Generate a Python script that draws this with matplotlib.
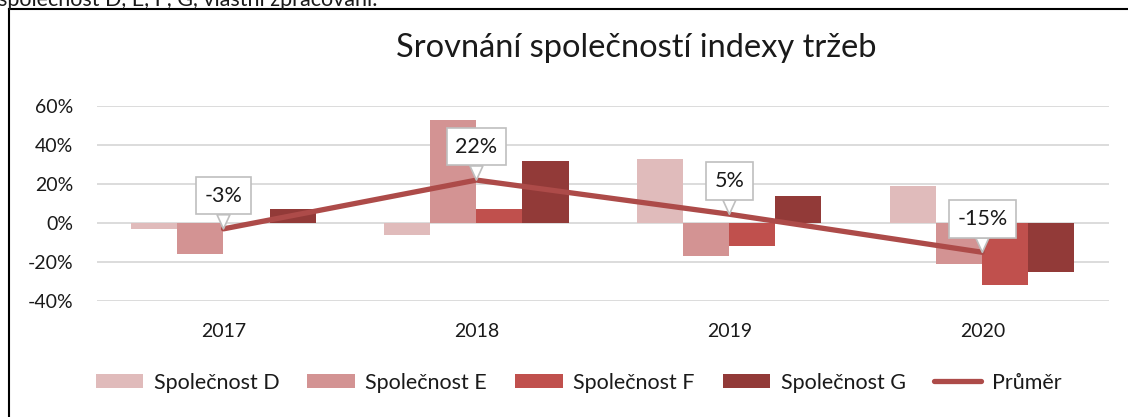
import numpy as np
import matplotlib.pyplot as plt
from matplotlib.lines import Line2D

# ==========================================================
# DATA
# ==========================================================

years = ["2017", "2018", "2019", "2020"]

spol_d = [-0.03, -0.06, 0.33, 0.19]
spol_e = [-0.16, 0.53, -0.17, -0.21]
spol_f = [0.00, 0.07, -0.12, -0.32]
spol_g = [0.07, 0.32, 0.14, -0.25]

prumer = [-0.03, 0.22, 0.045, -0.15]
prumer_labels = ["-3%", "22%", "5%", "-15%"]

series_names = ["Společnost D", "Společnost E", "Společnost F", "Společnost G"]
yticks = [-0.4, -0.2, 0.0, 0.2, 0.4, 0.6]

title = "Srovnání společností indexy tržeb"
caption = "společnost D, E, F, G, vlastní zpracování."

# ==========================================================
# STYLE
# ==========================================================

plt.rcParams["font.family"] = ["Lato", "DejaVu Sans"]

colors = ["#E0BBBB", "#D39393", "#C0504D", "#923A38"]
line_color = "#AD4B49"
grid_color = "#D9D9D9"
text_color = "#1A1A1A"

# ==========================================================
# PLOT
# ==========================================================

fig = plt.figure(figsize=(11.28, 4.17), dpi=100)
ax = fig.add_axes([0.086, 0.278, 0.897, 0.468])

x = np.arange(len(years))
w = 0.182
offsets = [-1.5, -0.5, 0.5, 1.5]

for vals, off, col, name in zip(
    [spol_d, spol_e, spol_f, spol_g], offsets, colors, series_names
):
    ax.bar(x + off * w, vals, width=w, color=col, label=name, zorder=2)

ax.plot(
    x, prumer,
    color=line_color,
    lw=3.8,
    solid_capstyle="round",
    label="Průměr",
    zorder=3
)

for xi, yi, lab in zip(x, prumer, prumer_labels):
    ax.annotate(
        lab,
        xy=(xi, yi),
        xytext=(0, 24),
        textcoords="offset points",
        ha="center",
        va="center",
        fontsize=15.5,
        color=text_color,
        bbox=dict(boxstyle="square,pad=0.4", fc="white", ec="#BFBFBF", lw=1.2),
        arrowprops=dict(
            arrowstyle="wedge,tail_width=0.6,shrink_factor=0.5",
            fc="white",
            ec="#BFBFBF",
            lw=1.2,
            shrinkA=0,
            shrinkB=0
        ),
        zorder=5
    )

ax.set_xlim(-0.5, len(years) - 0.5)
ax.set_ylim(-0.4, 0.6)
ax.set_yticks(yticks)
ax.set_yticklabels([f"{v:.0%}" for v in yticks])
ax.set_xticks(x)
ax.set_xticklabels(years)

ax.tick_params(axis="both", length=0, labelsize=14, colors=text_color)
ax.tick_params(axis="y", pad=17)
ax.tick_params(axis="x", pad=16)

for s in ax.spines.values():
    s.set_visible(False)

ax.yaxis.grid(True, color=grid_color, lw=1.3, zorder=0)
ax.set_axisbelow(True)

# title, caption
fig.text(0.564, 0.885, title, ha="center", va="center",
         fontsize=23.5, color=text_color)

fig.text(-0.002, 1 - 6.5 / 417, caption, ha="left", va="baseline",
         fontsize=15.5, color=text_color)

# chart frame (left and top only visible)
fig.add_artist(Line2D([8.5 / 1128, 8.5 / 1128], [0, 1 - 9 / 417],
                      color="black", lw=1.5, transform=fig.transFigure))
fig.add_artist(Line2D([8.5 / 1128, 1.0], [1 - 9 / 417, 1 - 9 / 417],
                      color="black", lw=1.5, transform=fig.transFigure))

# legend: bars first, average last
handles, labels = ax.get_legend_handles_labels()
order = [1, 2, 3, 4, 0]
fig.legend(
    [handles[i] for i in order], [labels[i] for i in order],
    loc="center",
    bbox_to_anchor=(0.513, 0.082),
    ncol=5,
    frameon=False,
    fontsize=15.5,
    handlelength=2.2,
    handleheight=0.65,
    handletextpad=0.5,
    columnspacing=1.3,
    labelcolor=text_color
)

plt.savefig("out.png", dpi=100)
